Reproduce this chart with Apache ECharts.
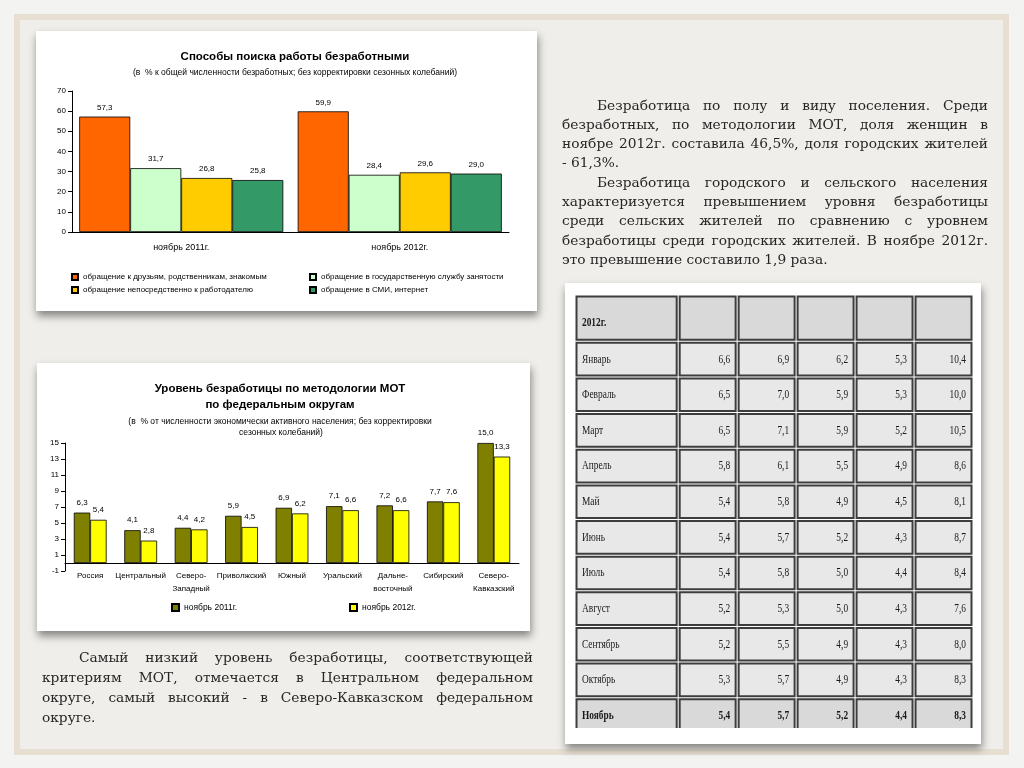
<!DOCTYPE html>
<html><head><meta charset="utf-8">
<script src="https://cdn.jsdelivr.net/npm/echarts@6/dist/echarts.min.js"></script>
<style>html,body{margin:0;padding:0;background:#eeede9}#c{width:1024px;height:768px}</style>
</head><body><div id="c"></div>
<script>
// ---------- Chart 1: ways of job search ----------
const searchPeriods = ['ноябрь 2011г.', 'ноябрь 2012г.'];
const searchMethods = [
  'обращение к друзьям, родственникам, знакомым',
  'обращение в государственную службу занятости',
  'обращение непосредственно к работодателю',
  'обращение в СМИ, интернет'
];
const searchFriends = [57.3, 59.9];
const searchStateService = [31.7, 28.4];
const searchEmployer = [26.8, 29.6];
const searchMedia = [25.8, 29.0];
const searchColors = ['#ff6600', '#ccffcc', '#ffcc00', '#339966'];

// ---------- Chart 2: unemployment by federal district ----------
const districts = ['Россия', 'Центральный', 'Северо-\nЗападный', 'Приволжский', 'Южный',
  'Уральский', 'Дальне-\nвосточный', 'Сибирский', 'Северо-\nКавказский'];
const rateSeriesNames = ['ноябрь 2011г.', 'ноябрь 2012г.'];
const rateNov2011 = [6.3, 4.1, 4.4, 5.9, 6.9, 7.1, 7.2, 7.7, 15.0];
const rateNov2012 = [5.4, 2.8, 4.2, 4.5, 6.2, 6.6, 6.6, 7.6, 13.3];

// ---------- Table ----------
const tableCorner = '2012г.';
const months = ['Январь', 'Февраль', 'Март', 'Апрель', 'Май', 'Июнь', 'Июль', 'Август', 'Сентябрь', 'Октябрь', 'Ноябрь'];
const monthValues = [
  [6.6, 6.9, 6.2, 5.3, 10.4],
  [6.5, 7.0, 5.9, 5.3, 10.0],
  [6.5, 7.1, 5.9, 5.2, 10.5],
  [5.8, 6.1, 5.5, 4.9, 8.6],
  [5.4, 5.8, 4.9, 4.5, 8.1],
  [5.4, 5.7, 5.2, 4.3, 8.7],
  [5.4, 5.8, 5.0, 4.4, 8.4],
  [5.2, 5.3, 5.0, 4.3, 7.6],
  [5.2, 5.5, 4.9, 4.3, 8.0],
  [5.3, 5.7, 4.9, 4.3, 8.3],
  [5.4, 5.7, 5.2, 4.4, 8.3]
];

// ---------- Paragraph text ----------
const rightParagraph = [
  {t: 'Безработица по полу и виду поселения. Среди', indent: true},
  {t: 'безработных, по методологии МОТ, доля женщин в'},
  {t: 'ноябре 2012г. составила 46,5%, доля городских жителей'},
  {t: '- 61,3%.', last: true},
  {t: 'Безработица городского и сельского населения', indent: true},
  {t: 'характеризуется превышением уровня безработицы'},
  {t: 'среди сельских жителей по сравнению с уровнем'},
  {t: 'безработицы среди городских жителей. В ноябре 2012г.'},
  {t: 'это превышение составило 1,9 раза.', last: true}
];
const leftParagraph = [
  {t: 'Самый низкий уровень безработицы, соответствующей', indent: true},
  {t: 'критериям МОТ, отмечается в Центральном федеральном'},
  {t: 'округе, самый высокий - в Северо-Кавказском федеральном'},
  {t: 'округе.', last: true}
];

const fmt = v => Number(v).toFixed(1).replace('.', ',');
const SANS = 'Liberation Sans, Arial, sans-serif';
const SERIF_P = 'DejaVu Serif';
const SERIF_T = 'Liberation Serif';

// ---------- justified paragraph builder ----------
const mctx = document.createElement('canvas').getContext('2d');
function tw(t, size) { mctx.font = 'normal normal ' + size + 'px ' + SERIF_P; return mctx.measureText(t).width; }
function fitSize(lines, width, indent, maxSize) {
  let s = maxSize;
  while (s > 9) {
    let ok = lines.every(l => tw(l.t, s) + (l.indent ? indent : 0) <= width - 2);
    if (ok) break;
    s -= 0.25;
  }
  return s;
}
function paragraph(lines, x0, x1, yStart, pitch, indent, size) {
  const els = [];
  lines.forEach((l, i) => {
    const y = yStart + i * pitch;
    const words = l.t.split(' ');
    const left = x0 + (l.indent ? indent : 0);
    const avail = x1 - left;
    const wordsW = words.reduce((a, w) => a + tw(w, size), 0);
    let gap = tw(' ', size);
    if (!l.last && words.length > 1) gap = (avail - wordsW) / (words.length - 1);
    let x = left;
    words.forEach(w => {
      els.push({type: 'text', z: 5, x: x, y: y,
        style: {text: w, fill: '#262626', font: 'normal normal ' + size + 'px ' + SERIF_P,
          verticalAlign: 'middle', textVerticalAlign: 'middle'}});
      x += tw(w, size) + gap;
    });
  });
  return els;
}
const pSize = Math.min(fitSize(rightParagraph, 426, 35, 14), fitSize(leftParagraph, 491, 37, 14));

// ---------- table cells ----------
const COL0 = 1.75, ROW0 = 1.3;
const cellData = [], cellText = [];
for (let c = 0; c < 6; c++) { cellData.push([c, 0]); cellText.push(c === 0 ? tableCorner : ''); }
months.forEach((m, i) => {
  cellData.push([0, i + 1]); cellText.push(m);
  monthValues[i].forEach((v, k) => { cellData.push([k + 1, i + 1]); cellText.push(fmt(v)); });
});
const lastRow = months.length;

function renderCell(params, api) {
  const c = api.value(0), r = api.value(1);
  const x0 = c === 0 ? 0 : COL0 + (c - 1), x1 = c === 0 ? COL0 : COL0 + c;
  const y0 = r === 0 ? 0 : ROW0 + (r - 1), y1 = r === 0 ? ROW0 : ROW0 + r;
  const p0 = api.coord([x0, y0]), p1 = api.coord([x1, y1]);
  const L = Math.min(p0[0], p1[0]), R = Math.max(p0[0], p1[0]);
  const T = Math.min(p0[1], p1[1]), B = Math.max(p0[1], p1[1]);
  const strong = (r === 0 || r === lastRow);
  const txt = cellText[params.dataIndex];
  const children = [{
    type: 'rect',
    shape: {x: L + 1.5, y: T + 1.5, width: R - L - 3, height: B - T - 3},
    style: {fill: strong ? '#d9d9d9' : '#e8e8e8', stroke: '#3d3d3d', lineWidth: 2}
  }];
  if (txt) {
    children.push({
      type: 'text',
      x: c === 0 ? L + 7 : R - 7,
      y: (T + B) / 2 + (r === 0 ? 4 : 0),
      scaleX: 0.72,
      style: {text: txt, fill: '#1a1a1a',
        font: (strong ? 'bold ' : 'normal ') + '13px ' + SERIF_T,
        align: c === 0 ? 'left' : 'right', textAlign: c === 0 ? 'left' : 'right',
        verticalAlign: 'middle', textVerticalAlign: 'middle'}
    });
  }
  return {type: 'group', children: children};
}

const barLabel = (size, dist) => ({show: true, position: 'top', distance: dist, fontSize: size,
  color: '#000', fontFamily: SANS, formatter: p => fmt(p.value)});

const searchSeriesData = [searchFriends, searchStateService, searchEmployer, searchMedia];

const option = {
  backgroundColor: '#eeede9',
  animation: false,
  textStyle: {fontFamily: SANS},
  graphic: {elements: [
    {type: 'rect', z: -20, shape: {x: 0, y: 0, width: 1024, height: 768}, style: {fill: '#f3f3f1'}},
    {type: 'rect', z: -19, shape: {x: 20, y: 20, width: 983, height: 729}, style: {fill: '#efeeea'}},
    {type: 'rect', z: -18, shape: {x: 17, y: 17, width: 989, height: 735}, style: {fill: 'none', stroke: '#e7dfd2', lineWidth: 6}},
    {type: 'rect', z: -15, shape: {x: 36, y: 31, width: 501, height: 280},
      style: {fill: '#ffffff', shadowBlur: 8, shadowColor: 'rgba(0,0,0,0.45)', shadowOffsetY: 5, shadowOffsetX: 1}},
    {type: 'rect', z: -15, shape: {x: 37, y: 363, width: 493, height: 268},
      style: {fill: '#ffffff', shadowBlur: 8, shadowColor: 'rgba(0,0,0,0.45)', shadowOffsetY: 5, shadowOffsetX: 1}},
    {type: 'rect', z: -15, shape: {x: 565, y: 283, width: 416, height: 461},
      style: {fill: '#ffffff', shadowBlur: 8, shadowColor: 'rgba(0,0,0,0.45)', shadowOffsetY: 5, shadowOffsetX: 1}},
    ...paragraph(rightParagraph, 562, 988, 106, 19.3, 35, pSize),
    ...paragraph(leftParagraph, 42, 533, 658, 20, 37, pSize)
  ]},
  title: [
    {text: 'Способы поиска работы безработными', left: 295, top: 51, textAlign: 'center', padding: 0,
      textStyle: {fontSize: 11.5, fontWeight: 'bold', color: '#000', fontFamily: SANS}},
    {text: '(в  % к общей численности безработных; без корректировки сезонных колебаний)', left: 295, top: 68,
      textAlign: 'center', padding: 0, textStyle: {fontSize: 8.5, fontWeight: 'normal', color: '#000', fontFamily: SANS}},
    {text: 'Уровень безработицы по методологии МОТ', left: 280, top: 383, textAlign: 'center', padding: 0,
      textStyle: {fontSize: 11.5, fontWeight: 'bold', color: '#000', fontFamily: SANS}},
    {text: 'по федеральным округам', left: 280, top: 399, textAlign: 'center', padding: 0,
      textStyle: {fontSize: 11.5, fontWeight: 'bold', color: '#000', fontFamily: SANS}},
    {text: '(в  % от численности экономически активного населения; без корректировки', left: 280, top: 417,
      textAlign: 'center', padding: 0, textStyle: {fontSize: 8.5, fontWeight: 'normal', color: '#000', fontFamily: SANS}},
    {text: 'сезонных колебаний)', left: 281, top: 428,
      textAlign: 'center', padding: 0, textStyle: {fontSize: 8.5, fontWeight: 'normal', color: '#000', fontFamily: SANS}}
  ],
  legend: [
    {data: [searchMethods[0], searchMethods[2]], left: 71, top: 272, orient: 'vertical', padding: 0,
      itemGap: 3, itemWidth: 6, itemHeight: 6, icon: 'rect', textStyle: {fontSize: 8, lineHeight: 10, color: '#000'}},
    {data: [searchMethods[1], searchMethods[3]], left: 309, top: 272, orient: 'vertical', padding: 0,
      itemGap: 3, itemWidth: 6, itemHeight: 6, icon: 'rect', textStyle: {fontSize: 8, lineHeight: 10, color: '#000'}},
    {data: [rateSeriesNames[0]], left: 171, top: 603, padding: 0, itemWidth: 7, itemHeight: 7, icon: 'rect',
      textStyle: {fontSize: 8.5, color: '#000'}},
    {data: [rateSeriesNames[1]], left: 349, top: 603, padding: 0, itemWidth: 7, itemHeight: 7, icon: 'rect',
      textStyle: {fontSize: 8.5, color: '#000'}}
  ],
  grid: [
    {left: 72, top: 91, width: 437, height: 141},
    {left: 65, top: 443, width: 454, height: 128},
    {left: 575, top: 295, width: 398, height: 433}
  ],
  xAxis: [
    {gridIndex: 0, type: 'category', data: searchPeriods,
      axisLine: {lineStyle: {color: '#000', width: 1}}, axisTick: {length: 4, lineStyle: {color: '#000'}},
      axisLabel: {fontSize: 9, color: '#000', margin: 11}},
    {gridIndex: 1, type: 'category', data: districts,
      axisLine: {onZero: true, lineStyle: {color: '#000', width: 1}}, axisTick: {length: 3, lineStyle: {color: '#000'}},
      axisLabel: {fontSize: 8, color: '#000', margin: -2, lineHeight: 13, interval: 0}},
    {gridIndex: 2, type: 'value', min: 0, max: COL0 + 5, show: false}
  ],
  yAxis: [
    {gridIndex: 0, type: 'value', min: 0, max: 70, interval: 10,
      axisLine: {show: true, lineStyle: {color: '#000'}}, axisTick: {show: true, length: 4, lineStyle: {color: '#000'}},
      splitLine: {show: false}, axisLabel: {fontSize: 8, color: '#000', margin: 6}},
    {gridIndex: 1, type: 'value', min: -1, max: 15, interval: 2,
      axisLine: {show: true, lineStyle: {color: '#000'}}, axisTick: {show: true, length: 4, lineStyle: {color: '#000'}},
      splitLine: {show: false}, axisLabel: {fontSize: 8, color: '#000', margin: 6}},
    {gridIndex: 2, type: 'value', min: 0, max: ROW0 + months.length - 0.15, inverse: true, show: false}
  ],
  series: [
    ...searchSeriesData.map((d, i) => ({
      name: searchMethods[i], type: 'bar', xAxisIndex: 0, yAxisIndex: 0, data: d,
      barGap: '0%', barCategoryGap: '6.6%',
      itemStyle: {color: searchColors[i], borderColor: '#000', borderWidth: 0.8},
      label: barLabel(8, 5)
    })),
    {name: rateSeriesNames[0], type: 'bar', xAxisIndex: 1, yAxisIndex: 1, data: rateNov2011,
      barGap: '0%', barCategoryGap: '35%',
      itemStyle: {color: '#808000', borderColor: '#000', borderWidth: 0.8}, label: barLabel(8, 6)},
    {name: rateSeriesNames[1], type: 'bar', xAxisIndex: 1, yAxisIndex: 1, data: rateNov2012,
      barGap: '0%', barCategoryGap: '35%',
      itemStyle: {color: '#ffff00', borderColor: '#000', borderWidth: 0.8}, label: barLabel(8, 6)},
    {type: 'custom', xAxisIndex: 2, yAxisIndex: 2, data: cellData, renderItem: renderCell, clip: true, silent: true}
  ]
};

const chart = echarts.init(document.getElementById('c'), null, {renderer: 'canvas'});
chart.setOption(option);
</script>
</body></html>
